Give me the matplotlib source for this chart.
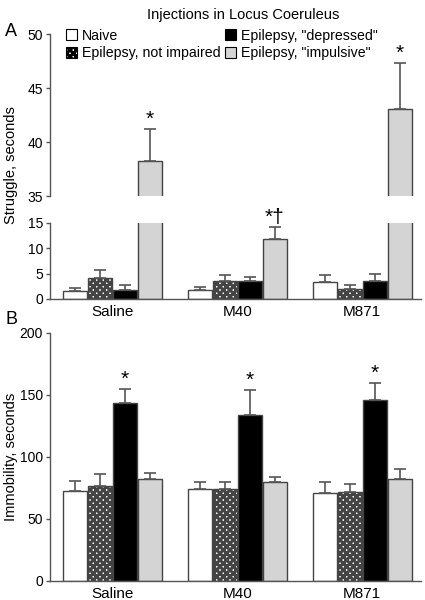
import matplotlib
matplotlib.use("Agg")
import matplotlib.pyplot as plt
import numpy as np
from matplotlib.patches import Patch

plt.rcParams["font.family"] = ["Liberation Sans", "DejaVu Sans"]
plt.rcParams["hatch.linewidth"] = 2.2

# data
groups = ["Saline", "M40", "M871"]
series = ["Naive", "Epilepsy, not impaired", 'Epilepsy, "depressed"', 'Epilepsy, "impulsive"']

struggle_naive = [1.5, 1.8, 3.4]
struggle_naive_err = [0.6, 0.6, 1.3]
struggle_not_impaired = [4.1, 3.6, 1.9]
struggle_not_impaired_err = [1.7, 1.1, 0.9]
struggle_depressed = [1.7, 3.5, 3.55]
struggle_depressed_err = [1.0, 0.9, 1.45]
struggle_impulsive = [38.2, 11.9, 43.1]
struggle_impulsive_err = [3.0, 2.4, 4.2]
struggle_marks = ["*", "*†", "*"]

immob_naive = [72.3, 73.9, 71.2]
immob_naive_err = [8.6, 6.1, 8.6]
immob_not_impaired = [76.6, 74.5, 71.8]
immob_not_impaired_err = [9.4, 5.5, 6.4]
immob_depressed = [143.8, 133.9, 146.0]
immob_depressed_err = [10.8, 19.9, 14.0]
immob_impulsive = [82.5, 80.0, 82.5]
immob_impulsive_err = [4.3, 4.0, 7.5]
immob_marks = ["*", "*", "*"]

# styles
face = ["white", "white", "black", "#d4d4d4"]
hatch = [None, "xxxxx", None, None]
edge = "#444444"
axcol = "#555555"

struggle = [struggle_naive, struggle_not_impaired, struggle_depressed, struggle_impulsive]
struggle_err = [struggle_naive_err, struggle_not_impaired_err, struggle_depressed_err, struggle_impulsive_err]
immob = [immob_naive, immob_not_impaired, immob_depressed, immob_impulsive]
immob_err = [immob_naive_err, immob_not_impaired_err, immob_depressed_err, immob_impulsive_err]

gx = np.arange(len(groups)) * 5
centers = gx + 1.5
width = 0.95


def draw_bars(ax, vals, errs):
    for j in range(4):
        x = gx + j
        ax.bar(x, vals[j], width=width, color=face[j], edgecolor=edge,
               hatch=hatch[j], linewidth=1.0, zorder=2)
        ax.errorbar(x, vals[j], yerr=[np.zeros(3), errs[j]], fmt="none",
                    ecolor=axcol, elinewidth=1.2, capsize=4.5, capthick=1.2, zorder=3)


def style_axis(ax):
    for s in ["top", "right"]:
        ax.spines[s].set_visible(False)
    for s in ["left", "bottom"]:
        ax.spines[s].set_color(axcol)
        ax.spines[s].set_linewidth(1.0)
    ax.tick_params(axis="y", colors=axcol, labelcolor="black", labelsize=10,
                   length=3, width=1.0, pad=2)
    ax.tick_params(axis="x", length=0, labelsize=11, pad=4)
    ax.set_xlim(-1, 13.85)


fig = plt.figure(figsize=(4.25, 6.0), dpi=100)

# panel A, broken axis
ax_hi = fig.add_axes([0.1176, 0.6733, 0.873, 0.27])
ax_lo = fig.add_axes([0.1176, 0.5017, 0.873, 0.1267])
ax_b = fig.add_axes([0.1176, 0.0317, 0.873, 0.4133])

for ax in (ax_hi, ax_lo):
    draw_bars(ax, struggle, struggle_err)
    style_axis(ax)

ax_hi.set_ylim(35, 50)
ax_hi.set_yticks([35, 40, 45, 50])
ax_hi.spines["bottom"].set_visible(False)
ax_hi.set_xticks([])

ax_lo.set_ylim(0, 15)
ax_lo.set_yticks([0, 5, 10, 15])
ax_lo.set_xticks(centers)
ax_lo.set_xticklabels(groups)

for i in range(3):
    top = struggle_impulsive[i] + struggle_impulsive_err[i]
    ax = ax_hi if top > 15 else ax_lo
    ax.text(gx[i] + 3, top, struggle_marks[i], ha="center", va="bottom",
            fontsize=15, clip_on=False)

# panel B
draw_bars(ax_b, immob, immob_err)
style_axis(ax_b)
ax_b.set_ylim(0, 200)
ax_b.set_yticks([0, 50, 100, 150, 200])
ax_b.set_xticks(centers)
ax_b.set_xticklabels(groups)
for i in range(3):
    top = immob_depressed[i] + immob_depressed_err[i]
    ax_b.text(gx[i] + 2, top, immob_marks[i], ha="center", va="bottom", fontsize=15)

# legend
handles = [Patch(facecolor=face[j], edgecolor="black", hatch=hatch[j], linewidth=0.8)
           for j in range(4)]
fig.legend(handles, series, ncol=2, loc="upper left", bbox_to_anchor=(0.138, 0.964),
           frameon=False, fontsize=10.2, handlelength=0.8, handleheight=0.8,
           handletextpad=0.35, columnspacing=0.3, labelspacing=0.25, borderpad=0)

fig.text(0.572, 0.987, "Injections in Locus Coeruleus", ha="center", va="top", fontsize=10.5)
fig.text(0.026, 0.725, "Struggle, seconds", rotation=90, ha="center", va="center", fontsize=10.5)
fig.text(0.026, 0.238, "Immobility, seconds", rotation=90, ha="center", va="center", fontsize=10.5)
fig.text(0.012, 0.948, "A", fontsize=13, ha="left", va="center")
fig.text(0.012, 0.468, "B", fontsize=13, ha="left", va="center")

fig.savefig("out.png", dpi=100)
